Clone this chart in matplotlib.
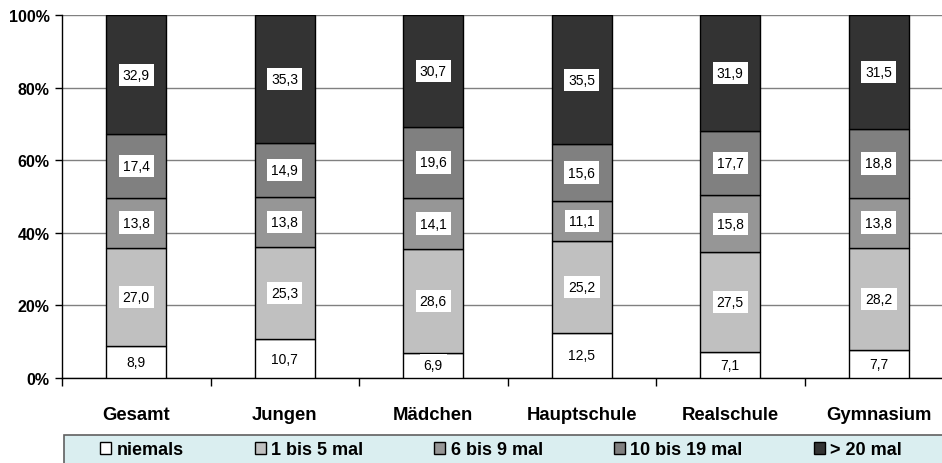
import numpy as np
import matplotlib
matplotlib.use("Agg")
import matplotlib.pyplot as plt
from matplotlib.patches import Rectangle

plt.rcParams['font.family'] = ['Liberation Sans', 'DejaVu Sans']

# Data
categories = ['Gesamt', 'Jungen', 'Mädchen', 'Hauptschule', 'Realschule', 'Gymnasium']
series_names = ['niemals', '1 bis 5 mal', '6 bis 9 mal', '10 bis 19 mal', '> 20 mal']
niemals = [8.9, 10.7, 6.9, 12.5, 7.1, 7.7]
mal_1_5 = [27.0, 25.3, 28.6, 25.2, 27.5, 28.2]
mal_6_9 = [13.8, 13.8, 14.1, 11.1, 15.8, 13.8]
mal_10_19 = [17.4, 14.9, 19.6, 15.6, 17.7, 18.8]
mal_20 = [32.9, 35.3, 30.7, 35.5, 31.9, 31.5]
colors = ['#FFFFFF', '#C0C0C0', '#969696', '#808080', '#333333']

series = [niemals, mal_1_5, mal_6_9, mal_10_19, mal_20]

fig = plt.figure(figsize=(9.42, 4.64), dpi=100)
W, H = 942, 464
ax = fig.add_axes([62 / W, (H - 379) / H, 891 / W, 363 / H])

x = np.arange(len(categories))
bottom = np.zeros(len(categories))
handles = []
for name, vals, col in zip(series_names, series, colors):
    vals = np.array(vals)
    b = ax.bar(x, vals, 0.404, bottom=bottom, color=col, edgecolor='black',
               linewidth=1, label=name, zorder=3)
    handles.append(b)
    for xi, v, bt in zip(x, vals, bottom):
        ax.text(xi, bt + v / 2, f'{v:.1f}'.replace('.', ','), ha='center', va='center',
                fontsize=10, zorder=5,
                bbox=dict(boxstyle='square,pad=0.3', facecolor='white', edgecolor='none'))
    bottom += vals

ax.set_xlim(-0.5, 5.5)
ax.set_ylim(0, 100)
ax.set_yticks(np.arange(0, 101, 20))
ax.set_yticklabels([f'{v}%' for v in range(0, 101, 20)], fontsize=11.5, fontweight='bold')
ax.tick_params(axis='y', length=5, width=1, pad=4)
ax.yaxis.grid(True, color='#808080', linewidth=1, zorder=0)

ax.set_xticks(x)
ax.set_xticklabels(categories, fontsize=13.3, fontweight='bold')
ax.tick_params(axis='x', which='major', length=0, pad=20)
ax.set_xticks(np.arange(-0.5, 6, 1), minor=True)
ax.tick_params(axis='x', which='minor', length=6, width=1)

for s in ['top', 'right']:
    ax.spines[s].set_visible(False)
for s in ['left', 'bottom']:
    ax.spines[s].set_color('black')
    ax.spines[s].set_linewidth(1)

# Legend background box
fig.patches.append(Rectangle((64 / W, -0.01), 1.0, 28 / H + 0.01, transform=fig.transFigure,
                             facecolor='#DAEEF0', edgecolor='#606060', linewidth=1.2))
fig.legend(handles=handles, labels=series_names, ncol=5, loc='center',
           bbox_to_anchor=(501 / W, 13 / H), frameon=False,
           prop={'size': 13, 'weight': 'bold'}, handlelength=0.6, handleheight=0.6,
           handletextpad=0.3, columnspacing=3.95, borderpad=0)

fig.savefig('out.png', dpi=100)
